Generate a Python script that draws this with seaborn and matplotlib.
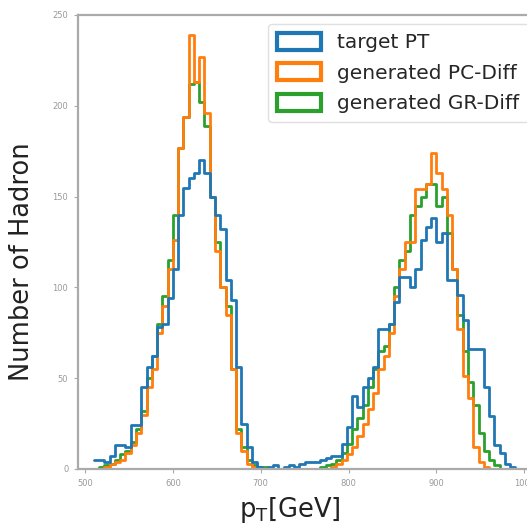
import numpy as np
import pandas as pd
import matplotlib
matplotlib.use("Agg")
import matplotlib.pyplot as plt
from matplotlib.patches import Patch
import seaborn as sns

# bin edges (GeV) shared by the three histograms
bin_edges = list(range(510, 991, 6))
bin_centers = [(a + b) / 2 for a, b in zip(bin_edges[:-1], bin_edges[1:])]

# counts per bin
target_pt = [
    5, 5, 4, 7, 13, 13, 12, 24, 24, 45,
    56, 62, 78, 80, 94, 110, 140, 155, 160, 163,
    170, 163, 150, 140, 132, 104, 93, 56, 25, 12,
    4, 1, 0, 1, 2, 0, 1, 2, 1, 3,
    4, 4, 4, 5, 6, 7, 7, 14, 23, 40,
    34, 45, 50, 56, 77, 77, 80, 92, 106, 106,
    100, 110, 126, 133, 138, 125, 130, 104, 104, 96,
    82, 66, 66, 66, 45, 29, 13, 9, 3, 1,
]
pc_diff = [
    0, 0, 1, 3, 4, 5, 9, 13, 20, 30,
    45, 55, 75, 90, 110, 126, 177, 194, 239, 213,
    227, 196, 150, 120, 100, 85, 55, 20, 10, 3,
    1, 0, 0, 0, 0, 0, 0, 0, 0, 0,
    0, 0, 0, 0, 0, 1, 3, 5, 8, 12,
    18, 25, 33, 42, 55, 62, 75, 95, 110, 125,
    125, 154, 154, 157, 174, 163, 154, 140, 110, 77,
    51, 39, 12, 4, 1, 0, 0, 0, 0, 0,
]
gr_diff = [
    0, 1, 2, 3, 5, 8, 10, 15, 22, 32,
    50, 62, 80, 95, 115, 140, 177, 194, 212, 213,
    202, 189, 150, 125, 100, 90, 55, 22, 12, 5,
    2, 1, 1, 0, 0, 0, 0, 0, 0, 0,
    0, 0, 0, 1, 2, 3, 5, 9, 14, 22,
    28, 35, 45, 55, 65, 68, 80, 100, 115, 120,
    140, 145, 150, 157, 157, 145, 150, 130, 110, 85,
    65, 48, 35, 20, 10, 5, 2, 0, 0, 0,
]

labels = ["target PT", "generated PC-Diff", "generated GR-Diff"]
colors = ["#1f77b4", "#ff7f0e", "#2ca02c"]

df = pd.concat([
    pd.DataFrame({"pt": bin_centers, "count": target_pt, "series": labels[0]}),
    pd.DataFrame({"pt": bin_centers, "count": pc_diff, "series": labels[1]}),
    pd.DataFrame({"pt": bin_centers, "count": gr_diff, "series": labels[2]}),
], ignore_index=True)

sns.set_style("white")
plt.rcParams['font.family'] = ['DejaVu Sans']

fig = plt.figure(figsize=(5.27, 5.28), dpi=100)
ax = fig.add_axes([78 / 527, 59 / 528, 455 / 527, 454 / 528])

sns.histplot(data=df, x="pt", weights="count", hue="series", hue_order=labels,
             palette=colors, bins=bin_edges, element="step", fill=False,
             linewidth=2.0, legend=False, ax=ax)

ax.set_xlim(492, 1010)
ax.set_ylim(0, 250)
ax.set_xticks([500, 600, 700, 800, 900, 1000])
ax.set_yticks([0, 50, 100, 150, 200, 250])
ax.tick_params(axis="both", labelsize=6, labelcolor="#999999", color="#aaaaaa",
               length=3, width=0.8, direction="out", bottom=True, left=True, pad=4)
for side in ["left", "bottom", "top"]:
    ax.spines[side].set_color("#aaaaaa")
    ax.spines[side].set_linewidth(1.6)
ax.spines["right"].set_visible(False)

ax.set_xlabel("")
ax.set_ylabel("")
fig.text(22 / 527, 1 - 262 / 528, "Number of Hadron", rotation=90,
         ha="center", va="center", fontsize=18.5, color="#222222")
fig.text(290 / 527, 1 - 510 / 528, r"$\mathregular{p_T}$[GeV]",
         ha="center", va="center", fontsize=18.5, color="#222222")

handles = [Patch(facecolor="none", edgecolor=c, linewidth=3) for c in colors]
fig.legend(handles, labels, loc="upper left", bbox_to_anchor=(268 / 527, 1 - 24 / 528),
           borderaxespad=0, fontsize=14.5, handlelength=2.2, handleheight=0.9,
           labelspacing=0.55, handletextpad=0.8, borderpad=0.45, frameon=True,
           fancybox=True, edgecolor="#e0e0e0", framealpha=1)

fig.savefig("out.png", dpi=100)
